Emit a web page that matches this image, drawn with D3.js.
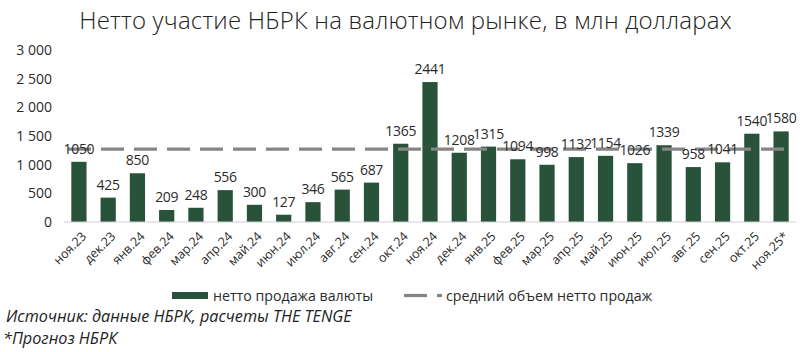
<!DOCTYPE html>
<html>
<head>
<meta charset="utf-8">
<script src="https://cdn.jsdelivr.net/npm/d3@7"></script>
<style>
  body { margin: 0; background: #fff; }
  svg { display: block; }
</style>
</head>
<body>
<script>
// --- data ---------------------------------------------------------
const months = ["ноя.23","дек.23","янв.24","фев.24","мар.24","апр.24","май.24","июн.24",
  "июл.24","авг.24","сен.24","окт.24","ноя.24","дек.24","янв.25","фев.25","мар.25",
  "апр.25","май.25","июн.25","июл.25","авг.25","сен.25","окт.25","ноя.25*"];
const netSales = [1050,425,850,209,248,556,300,127,346,565,687,1365,2441,1208,1315,
  1094,998,1132,1154,1026,1339,958,1041,1540,1580];
const avgSales = months.map(() => 1270);
const yTicks = [0,500,1000,1500,2000,2500,3000];

const W = 809, H = 352;
const margin = { top:50, right:13, bottom:130, left:64 };
const font = "'Open Sans', sans-serif";
const GREEN = "#28523a", GREY = "#858585", TXT = "#2b2b2b";

const svg = d3.select("body").append("svg")
  .attr("width", W).attr("height", H)
  .attr("font-family", font);

const x = d3.scaleBand()
  .domain(months)
  .range([margin.left, W - margin.right])
  .paddingInner(0.48).paddingOuter(0.25);

const y = d3.scaleLinear()
  .domain([0, 3000])
  .range([H - margin.bottom, margin.top]);

// title
svg.append("text")
  .attr("x", W/2 + 1).attr("y", 29)
  .attr("text-anchor", "middle")
  .attr("font-weight", 300)
  .attr("font-size", 24)
  .attr("letter-spacing", 0.2)
  .attr("fill", "#222")
  .text("Нетто участие НБРК на валютном рынке, в млн долларах");

// y axis (labels only)
const yAxis = svg.append("g")
  .attr("transform", `translate(${margin.left - 12},0)`)
  .call(d3.axisLeft(y).tickValues(yTicks).tickSize(0)
    .tickFormat(d => d3.format(",")(d).replace(",", " ")));
yAxis.select(".domain").remove();
yAxis.selectAll("text")
  .attr("x", 0)
  .attr("font-family", font).attr("font-size", 14).attr("fill", TXT);

// bars
svg.append("g").selectAll("rect")
  .data(netSales)
  .join("rect")
    .attr("x", (d,i) => x(months[i]))
    .attr("y", d => y(d))
    .attr("width", x.bandwidth())
    .attr("height", d => y(0) - y(d))
    .attr("fill", GREEN);

// baseline
svg.append("line")
  .attr("x1", margin.left).attr("x2", W - margin.right)
  .attr("y1", y(0)).attr("y2", y(0))
  .attr("stroke", "#d0d0d0").attr("stroke-width", 1);

// average line, drawn over the bars
svg.append("path")
  .datum(avgSales)
  .attr("d", d3.line()
    .x((d,i) => i === 0 ? margin.left + 4 : i === avgSales.length-1 ? W - margin.right - 4 : x(months[i]) + x.bandwidth()/2)
    .y(d => y(d)))
  .attr("fill", "none")
  .attr("stroke", GREY).attr("stroke-width", 3.2)
  .attr("stroke-dasharray", "23 10");

// value labels
svg.append("g").selectAll("text")
  .data(netSales)
  .join("text")
    .attr("x", (d,i) => x(months[i]) + x.bandwidth()/2)
    .attr("y", d => y(d) - 8)
    .attr("text-anchor", "middle")
    .attr("font-size", 14)
    .attr("letter-spacing", -0.3)
    .attr("fill", TXT)
    .text(d => d);

// x labels
const xAxis = svg.append("g")
  .attr("transform", `translate(0,${y(0)})`)
  .call(d3.axisBottom(x).tickSize(0));
xAxis.select(".domain").remove();
xAxis.selectAll("text")
  .attr("font-family", font).attr("font-size", 12.5).attr("fill", TXT)
  .attr("text-anchor", "end")
  .attr("dx", 0).attr("dy", 0)
  .attr("transform", "translate(6,13) rotate(-45)");

// legend
const lg = svg.append("g").attr("font-size", 14.2).attr("fill", TXT);
lg.append("rect").attr("x", 172).attr("y", 292).attr("width", 36).attr("height", 7).attr("fill", GREEN);
lg.append("text").attr("x", 213).attr("y", 300.5).text("нетто продажа валюты");
lg.append("line").attr("x1", 404).attr("x2", 427).attr("y1", 295.5).attr("y2", 295.5)
  .attr("stroke", GREY).attr("stroke-width", 3.2);
lg.append("line").attr("x1", 437).attr("x2", 442).attr("y1", 295.5).attr("y2", 295.5)
  .attr("stroke", GREY).attr("stroke-width", 3.2);
lg.append("text").attr("x", 446).attr("y", 300.5).text("средний объем нетто продаж");

// source
const src = svg.append("g").attr("font-size", 16.2).attr("font-style", "italic").attr("fill", "#222");
src.append("text").attr("x", 6).attr("y", 322).text("Источник: данные НБРК, расчеты THE TENGE");
src.append("text").attr("x", 3).attr("y", 344).text("*Прогноз НБРК");
</script>
</body>
</html>
